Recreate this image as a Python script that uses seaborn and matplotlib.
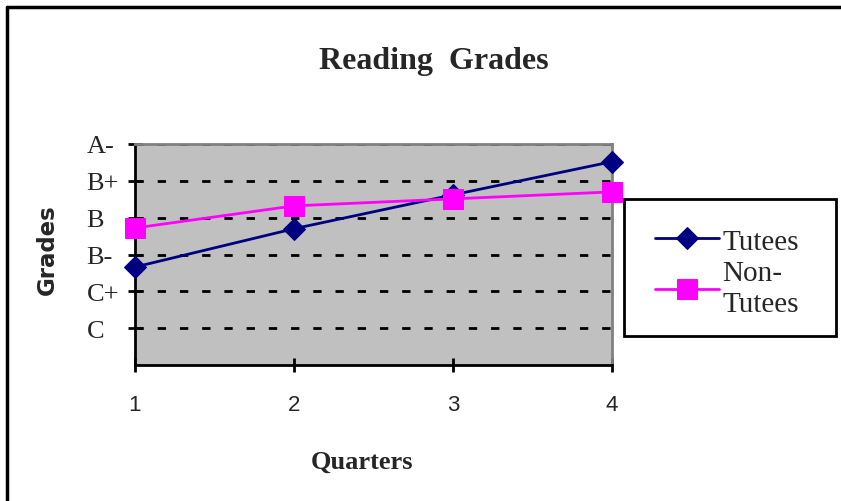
import numpy as np
import pandas as pd
import matplotlib
matplotlib.use('Agg')
import matplotlib.pyplot as plt
import seaborn as sns
from matplotlib.lines import Line2D
from matplotlib.patches import Rectangle

# data (C=1 ... A-=6)
quarters = [1, 2, 3, 4]
tutees = [2.66, 3.70, 4.62, 5.52]
non_tutees = [3.72, 4.32, 4.51, 4.70]
grade_ticks = [1, 2, 3, 4, 5, 6]
grade_labels = ['C', 'C+', 'B-', 'B', 'B+', 'A-']

df = pd.DataFrame({
    'quarter': quarters * 2,
    'grade': tutees + non_tutees,
    'group': ['Tutees'] * 4 + ['Non-\nTutees'] * 4,
})

sns.set_style('white')
serif = ['Liberation Serif', 'DejaVu Serif']
sans = ['Liberation Sans', 'DejaVu Sans']

fig = plt.figure(figsize=(8.41, 5.02), dpi=100)
ax = fig.add_axes([135 / 841, 1 - 366 / 502, 477 / 841, 221 / 502])
ax.set_facecolor('#C0C0C0')

styles = {'Tutees': ('#000080', 'D', 11), 'Non-\nTutees': ('#FF00FF', 's', 14)}
for name, (col, mk, ms) in styles.items():
    sub = df[df['group'] == name]
    sns.lineplot(data=sub, x='quarter', y='grade', ax=ax, color=col, marker=mk,
                 markersize=ms, markeredgecolor=col, linewidth=2, clip_on=False,
                 label=name, zorder=5)

ax.set_xlim(1, 4)
ax.set_ylim(0, 6)
ax.set_xticks(quarters)
ax.set_xticklabels([str(q) for q in quarters], family=sans)
ax.set_yticks(grade_ticks)
ax.set_yticklabels(grade_labels, family=serif, fontsize=19, ha='left')
ax.tick_params(axis='both', direction='inout', length=10, width=2, color='black',
               bottom=True, left=True)
ax.tick_params(axis='x', pad=16, labelsize=16)
ax.tick_params(axis='y', pad=30)
ax.grid(axis='y', color='black', linestyle=(0, (3, 5)), linewidth=2)
ax.set_axisbelow(True)
for side in ['left', 'bottom']:
    ax.spines[side].set_color('black')
    ax.spines[side].set_linewidth(2)
for side in ['top', 'right']:
    ax.spines[side].set_color('#808080')
    ax.spines[side].set_linewidth(2)
ax.set_xlabel('')
ax.set_ylabel('')

# legend box drawn separately so its size matches the original
fig.add_artist(Rectangle((624 / 841, 1 - 337 / 502), 212 / 841, 137 / 502,
                         transform=fig.transFigure, facecolor='white',
                         edgecolor='black', linewidth=2, zorder=-1))
leg = ax.legend(loc='upper left', bbox_to_anchor=(629 / 841, 1 - 203 / 502),
                bbox_transform=fig.transFigure, frameon=False,
                prop={'family': serif, 'size': 21}, handlelength=2.2,
                borderpad=0.9, labelspacing=0.2, handletextpad=0.1,
                borderaxespad=0)
for t in leg.get_texts():
    t.set_linespacing(1.25)

fig.text(434 / 841, 1 - 62 / 502, 'Reading  Grades', ha='center', va='center',
         family=serif, fontweight='bold', fontsize=23)
fig.text(362 / 841, 1 - 462 / 502, 'Quarters', ha='center', va='center',
         family=serif, fontweight='bold', fontsize=19)
fig.text(47 / 841, 1 - 250 / 502, 'Grades', ha='center', va='center',
         rotation=90, family=['DejaVu Sans'], fontweight='heavy', fontsize=16.5)

# outer frame (top and left edges visible)
fig.add_artist(Line2D([7 / 841, 7 / 841], [0, 1 - 8 / 502], transform=fig.transFigure,
                      color='black', linewidth=2.5))
fig.add_artist(Line2D([7 / 841, 1], [1 - 8 / 502, 1 - 8 / 502], transform=fig.transFigure,
                      color='black', linewidth=2.5))

fig.savefig('out.png', dpi=100)
